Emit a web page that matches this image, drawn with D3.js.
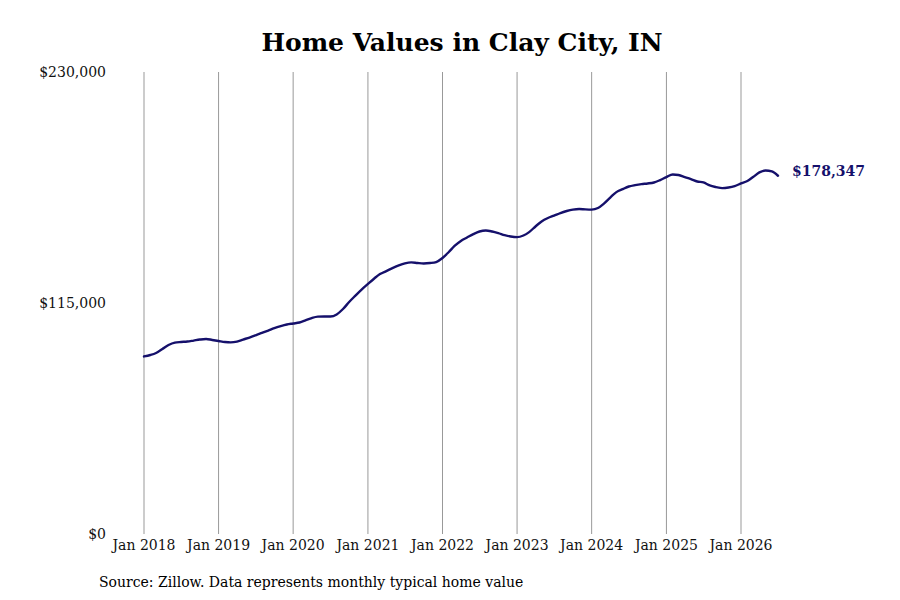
<!DOCTYPE html>
<html>
<head>
<meta charset="utf-8">
<script src="https://cdn.jsdelivr.net/npm/d3@7"></script>
<style>
  body { margin: 0; background: #fff; }
  svg { font-family: "DejaVu Serif", serif; }
</style>
</head>
<body>
<svg id="chart" width="900" height="600"></svg>
<script>
// monthly typical home value, Jan 2018 .. Jul 2026
var startMonth = "2018-01";
var homeValues = [
  88400, 89100, 90100, 92100, 94100, 95300, 95600, 95800, 96300, 96800, 97100, 96600,
  96100, 95600, 95400, 95800, 96800, 97800, 98900, 100100, 101300, 102500, 103500, 104300,
  104800, 105300, 106300, 107500, 108200, 108300, 108300, 109300, 112000, 115500, 118700, 121700,
  124500, 127200, 129400, 130900, 132400, 133700, 134700, 135200, 134900, 134700, 134900, 135400,
  137400, 140400, 143400, 145900, 147600, 149300, 150600, 151100, 150600, 149800, 148800, 148100,
  147800, 148600, 150300, 153100, 155600, 157300, 158500, 159800, 160800, 161500, 161800, 161600,
  161500, 162300, 164500, 167500, 170200, 171700, 173000, 173700, 174200, 174500, 175000, 176200,
  177700, 179000, 178700, 177700, 176700, 175500, 175000, 173500, 172700, 172200, 172500, 173200,
  174500, 175700, 177700, 180000, 181000, 180500, 178347
];
var yTicks = [0, 115000, 230000];
var xTickYears = [2018, 2019, 2020, 2021, 2022, 2023, 2024, 2025, 2026];
var titleText = "Home Values in Clay City, IN";
var sourceText = "Source: Zillow. Data represents monthly typical home value";

var svg = d3.select("#chart");
var parseMonth = d3.timeParse("%Y-%m");
var start = parseMonth(startMonth);

var data = homeValues.map(function (v, i) {
  return { date: d3.timeMonth.offset(start, i), value: v };
});

var x = d3.scaleTime()
  .domain([new Date(2018, 0, 1), new Date(2026, 0, 1)])
  .range([144, 741]);

var y = d3.scaleLinear()
  .domain([0, 230000])
  .range([534, 72]);

var fmt = d3.format("$,.0f");

// vertical gridlines
svg.append("g")
  .selectAll("line")
  .data(xTickYears)
  .enter().append("line")
  .attr("x1", function (d) { return x(new Date(d, 0, 1)); })
  .attr("x2", function (d) { return x(new Date(d, 0, 1)); })
  .attr("y1", y(230000))
  .attr("y2", y(0))
  .attr("stroke", "#999")
  .attr("stroke-width", 1);

// x labels
svg.append("g")
  .attr("font-size", 14)
  .attr("fill", "#111")
  .selectAll("text")
  .data(xTickYears)
  .enter().append("text")
  .attr("x", function (d) { return x(new Date(d, 0, 1)); })
  .attr("y", 550)
  .attr("text-anchor", "middle")
  .text(function (d) { return "Jan " + d; });

// y labels
svg.append("g")
  .attr("font-size", 14)
  .attr("fill", "#111")
  .selectAll("text")
  .data(yTicks)
  .enter().append("text")
  .attr("x", 106)
  .attr("y", function (d) { return y(d); })
  .attr("dy", "0.35em")
  .attr("text-anchor", "end")
  .text(function (d) { return fmt(d); });

var line = d3.line()
  .x(function (d) { return x(d.date); })
  .y(function (d) { return y(d.value); })
  .curve(d3.curveMonotoneX);

svg.append("path")
  .datum(data)
  .attr("fill", "none")
  .attr("stroke", "#15106b")
  .attr("stroke-width", 2.4)
  .attr("stroke-linejoin", "round")
  .attr("stroke-linecap", "round")
  .attr("d", line);

var last = data[data.length - 1];
svg.append("text")
  .attr("x", x(last.date) + 14)
  .attr("y", y(last.value) - 5)
  .attr("dy", "0.35em")
  .attr("font-size", 14)
  .attr("font-weight", "bold")
  .attr("fill", "#15106b")
  .text(fmt(last.value));

svg.append("text")
  .attr("x", 462)
  .attr("y", 51)
  .attr("text-anchor", "middle")
  .attr("font-size", 25)
  .attr("font-weight", "bold")
  .attr("fill", "#000")
  .text(titleText);

svg.append("text")
  .attr("x", 99)
  .attr("y", 587)
  .attr("font-size", 14)
  .attr("fill", "#000")
  .text(sourceText);
</script>
</body>
</html>
